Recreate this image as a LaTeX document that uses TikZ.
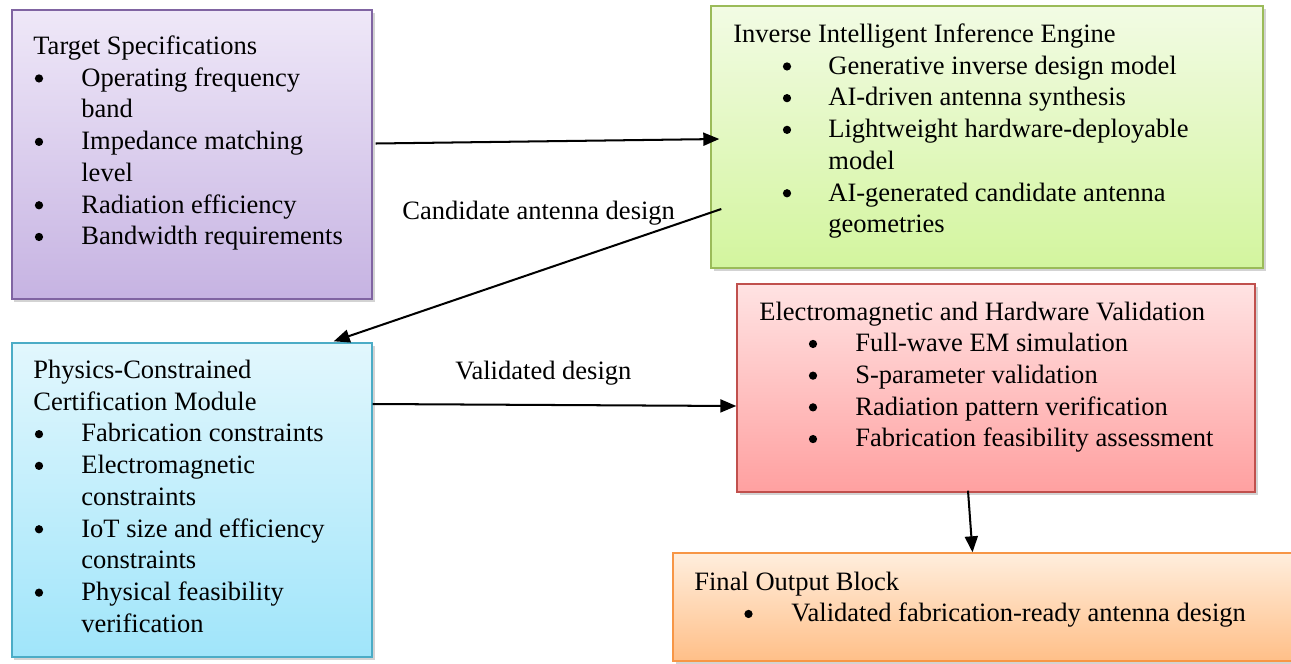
\documentclass[tikz,border=0pt]{standalone}
\usepackage{fontspec}
\setmainfont{Liberation Serif}
\usetikzlibrary{arrows.meta,calc,fit,shadows}
%
\definecolor{SPECLINE}{HTML}{8064A2}
\definecolor{SPECTOP}{HTML}{EFE8F8}
\definecolor{SPECBOT}{HTML}{C6B3E2}
\definecolor{ENGLINE}{HTML}{9BBB59}
\definecolor{ENGTOP}{HTML}{F2FBE4}
\definecolor{ENGBOT}{HTML}{D3F59E}
\definecolor{CERTLINE}{HTML}{4BACC6}
\definecolor{CERTTOP}{HTML}{E2F7FD}
\definecolor{CERTBOT}{HTML}{A0E5FA}
\definecolor{VALLINE}{HTML}{C0504D}
\definecolor{VALTOP}{HTML}{FFE3E3}
\definecolor{VALBOT}{HTML}{FFA0A0}
\definecolor{OUTLINE}{HTML}{F79646}
\definecolor{OUTTOP}{HTML}{FFEEDD}
\definecolor{OUTBOT}{HTML}{FFBF88}
%
\begin{document}
\begin{tikzpicture}
[
 x=0.02cm, y=-0.02cm,
 font=\fontsize{15.1pt}{18pt}\selectfont,
 BOX/.style={rectangle, inner sep=0, line width=0.8pt,
   drop shadow={shadow xshift=0.5mm, shadow yshift=-0.6mm, opacity=0.35}},
 SPECBOX/.style={BOX, draw=SPECLINE, top color=SPECTOP, bottom color=SPECBOT},
 ENGBOX/.style={BOX, draw=ENGLINE, top color=ENGTOP, bottom color=ENGBOT},
 CERTBOX/.style={BOX, draw=CERTLINE, top color=CERTTOP, bottom color=CERTBOT},
 VALBOX/.style={BOX, draw=VALLINE, top color=VALTOP, bottom color=VALBOT},
 OUTBOX/.style={BOX, draw=OUTLINE, top color=OUTTOP, bottom color=OUTBOT},
 TXT/.style={anchor=base west, inner sep=0},
 BUL/.style={circle, fill=black, inner sep=0, minimum size=0.165cm, yshift=1.55mm},
 ARR/.style={-{Triangle[length=3.2mm,width=2.6mm]}, line width=1.15pt},
 ]
\useasboundingbox (0,0) rectangle (1291,663);
%
\node [SPECBOX, fit={(12,10) (372,299)}]    (spec)  {};
\node [ENGBOX,  fit={(711,6) (1263,268)}]   (eng)   {};
\node [CERTBOX, fit={(12,343) (372,657)}]   (cert)  {};
\node [VALBOX,  fit={(737,284) (1255,492)}] (val)   {};
\node [OUTBOX,  fit={(673,553) (1300,661)}] (out)   {};
%
\node [TXT] (S0) at (33,54.5)  {Target Specifications};
\node [BUL] (SB1) at (39,86.2)  {};
\node [TXT] (S1) at (81,86.2)  {Operating frequency};
\node [TXT] (S2) at (81,117.9) {band};
\node [BUL] (SB3) at (39,149.6) {};
\node [TXT] (S3) at (81,149.6) {Impedance matching};
\node [TXT] (S4) at (81,181.3) {level};
\node [BUL] (SB5) at (39,213) {};
\node [TXT] (S5) at (81,213) {Radiation efficiency};
\node [BUL] (SB6) at (39,244.7) {};
\node [TXT] (S6) at (81,244.7) {Bandwidth requirements};
%
\node [TXT] (E0) at (733,42.5)    {Inverse Intelligent Inference Engine};
\node [BUL] (EB1) at (787,74.2)  {};
\node [TXT] (E1) at (828,74.2)  {Generative inverse design model};
\node [BUL] (EB2) at (787,105.9) {};
\node [TXT] (E2) at (828,105.9) {AI-driven antenna synthesis};
\node [BUL] (EB3) at (787,137.6) {};
\node [TXT] (E3) at (828,137.6) {Lightweight hardware-deployable};
\node [TXT] (E4) at (828,169.3) {model};
\node [BUL] (EB5) at (787,201)   {};
\node [TXT] (E5) at (828,201)   {AI-generated candidate antenna};
\node [TXT] (E6) at (828,232.7) {geometries};
%
\node [TXT] (C0) at (33,378.5)  {Physics-Constrained};
\node [TXT] (C1) at (33,410.2)  {Certification Module};
\node [BUL] (CB2) at (39,441.9)  {};
\node [TXT] (C2) at (81,441.9)  {Fabrication constraints};
\node [BUL] (CB3) at (39,473.6)  {};
\node [TXT] (C3) at (81,473.6)  {Electromagnetic};
\node [TXT] (C4) at (81,505.3)  {constraints};
\node [BUL] (CB5) at (39,537)  {};
\node [TXT] (C5) at (81,537)  {IoT size and efficiency};
\node [TXT] (C6) at (81,568.7)  {constraints};
\node [BUL] (CB7) at (39,600.4)  {};
\node [TXT] (C7) at (81,600.4)  {Physical feasibility};
\node [TXT] (C8) at (81,632.1)  {verification};
%
\node [TXT] (V0) at (759,320) {Electromagnetic and Hardware Validation};
\node [BUL] (VB1) at (813,351.7) {};
\node [TXT] (V1) at (855,351.7) {Full-wave EM simulation};
\node [BUL] (VB2) at (813,383.4) {};
\node [TXT] (V2) at (855,383.4) {S-parameter validation};
\node [BUL] (VB3) at (813,415.1) {};
\node [TXT] (V3) at (855,415.1) {Radiation pattern verification};
\node [BUL] (VB4) at (813,446.8) {};
\node [TXT] (V4) at (855,446.8) {Fabrication feasibility assessment};
%
\node [TXT] (O0) at (694,590) {Final Output Block};
\node [BUL] (OB1) at (748.5,621.7) {};
\node [TXT] (O1) at (791,621.7) {Validated fabrication-ready antenna design};
%
\node [TXT] (lcand) at (402,219.5) {Candidate antenna design};
\node [TXT] (lval)  at (455,379)   {Validated design};
%
\draw [ARR]  ($(spec.east)+(3,-11)$)  -- ($(eng.west)+(9,2)$) ;
\draw [ARR]  ($(eng.west)+(11,72)$)   -- ($(cert.north east)+(-39,-1)$) ;
\draw [ARR]  ($(cert.east)+(0,-96)$)  -- ($(val.west)+(0,18)$) ;
\draw [ARR]  ($(val.south)+(-28,-2)$) -- ($(out.north)+(-14,0)$) ;
%
\end{tikzpicture}
\end{document}
